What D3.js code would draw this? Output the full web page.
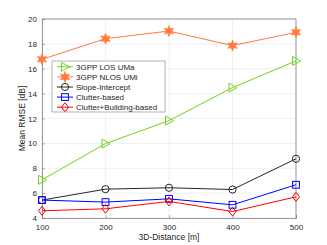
<!doctype html>
<html>
<head>
<style>
  body { margin: 0; background: #fff; font-family: "Liberation Sans", Arial, sans-serif; }
  text { fill: #262626; }
</style>
<script src="https://d3js.org/d3.v7.min.js"></script>
</head>
<body>
<div id="chart"></div>
<script>
var distances = [100, 200, 300, 400, 500];
var losUMa = [7.07, 9.98, 11.83, 14.48, 16.63];
var nlosUMi = [16.76, 18.42, 19.03, 17.86, 18.93];
var slopeIntercept = [5.44, 6.32, 6.43, 6.29, 8.76];
var clutterBased = [5.44, 5.28, 5.54, 5.06, 6.67];
var clutterBuilding = [4.58, 4.74, 5.33, 4.52, 5.70];
var xTicks = [100, 200, 300, 400, 500];
var yTicks = [4, 6, 8, 10, 12, 14, 16, 18, 20];

var series = [
  {name: "3GPP LOS UMa", values: losUMa, color: "#6fd41c", marker: "tri"},
  {name: "3GPP NLOS UMi", values: nlosUMi, color: "#ff7a3d", marker: "star"},
  {name: "Slope-Intercept", values: slopeIntercept, color: "#262626", marker: "circle"},
  {name: "Clutter-based", values: clutterBased, color: "#0000ff", marker: "square"},
  {name: "Clutter+Building-based", values: clutterBuilding, color: "#ff0000", marker: "diamond"}
];

var W = 327, H = 245;
var margin = {top: 19, right: 31, bottom: 27, left: 42};
var width = W - margin.left - margin.right,
    height = H - margin.top - margin.bottom;

var svg = d3.select("#chart").append("svg")
    .attr("width", W).attr("height", H);
var g = svg.append("g")
    .attr("transform", "translate(" + margin.left + "," + margin.top + ")");

var x = d3.scaleLinear().domain([100, 500]).range([0, width]);
var y = d3.scaleLinear().domain([4, 20]).range([height, 0]);

// grid
g.selectAll(".gx").data(xTicks).enter().append("line")
  .attr("x1", function(d) { return x(d); }).attr("x2", function(d) { return x(d); })
  .attr("y1", 0).attr("y2", height)
  .attr("stroke", "#e6e6e6").attr("stroke-width", 0.6);
g.selectAll(".gy").data(yTicks).enter().append("line")
  .attr("y1", function(d) { return y(d); }).attr("y2", function(d) { return y(d); })
  .attr("x1", 0).attr("x2", width)
  .attr("stroke", "#e6e6e6").attr("stroke-width", 0.6);

// axes
var xAxis = g.append("g").attr("transform", "translate(0," + height + ")")
  .call(d3.axisBottom(x).tickValues(xTicks).tickSize(-3).tickPadding(6));
var yAxis = g.append("g")
  .call(d3.axisLeft(y).tickValues(yTicks).tickSize(-3).tickPadding(5));
[xAxis, yAxis].forEach(function(a) {
  a.select(".domain").attr("stroke", "#808080").attr("stroke-width", 0.8);
  a.selectAll(".tick line").attr("stroke", "#808080").attr("stroke-width", 0.6);
  a.selectAll("text").attr("font-size", "8px").attr("fill", "#262626")
    .attr("font-family", "Liberation Sans, Arial, sans-serif");
});
// top and right box
g.append("line").attr("x1", 0).attr("x2", width).attr("y1", 0).attr("y2", 0)
  .attr("stroke", "#808080").attr("stroke-width", 0.8);
g.append("line").attr("x1", width).attr("x2", width).attr("y1", 0).attr("y2", height)
  .attr("stroke", "#808080").attr("stroke-width", 0.8);

// labels
svg.append("text").attr("x", margin.left + width / 2).attr("y", 240)
  .attr("text-anchor", "middle").attr("font-size", "8.5px").text("3D-Distance [m]");
svg.append("text").attr("transform", "translate(25," + (margin.top + height / 2) + ") rotate(-90)")
  .attr("text-anchor", "middle").attr("font-size", "8.5px").text("Mean RMSE [dB]");

function drawMarker(sel, type, color) {
  if (type === "tri") {
    sel.append("path").attr("d", "M-3.5,-4.5 L4.5,0 L-3.5,4.5 Z")
      .attr("fill", "none").attr("stroke", color).attr("stroke-width", 1);
  } else if (type === "star") {
    var pts = [];
    for (var i = 0; i < 12; i++) {
      var r = i % 2 === 0 ? 5.5 : 2.6;
      var a = -Math.PI / 2 + i * Math.PI / 6;
      pts.push([r * Math.cos(a), r * Math.sin(a)]);
    }
    sel.append("path").attr("d", "M" + pts.join("L") + "Z")
      .attr("fill", color).attr("stroke", color).attr("stroke-width", 0.6);
  } else if (type === "circle") {
    sel.append("circle").attr("r", 3.6)
      .attr("fill", "none").attr("stroke", color).attr("stroke-width", 1);
  } else if (type === "square") {
    sel.append("rect").attr("x", -3.4).attr("y", -3.4).attr("width", 6.8).attr("height", 6.8)
      .attr("fill", "none").attr("stroke", color).attr("stroke-width", 1);
  } else if (type === "diamond") {
    sel.append("path").attr("d", "M0,-4.5 L3.5,0 L0,4.5 L-3.5,0 Z")
      .attr("fill", "none").attr("stroke", color).attr("stroke-width", 1);
  }
}

var line = d3.line()
  .x(function(d, i) { return x(distances[i]); })
  .y(function(d) { return y(d); });

series.forEach(function(s) {
  g.append("path").datum(s.values).attr("d", line)
    .attr("fill", "none").attr("stroke", s.color).attr("stroke-width", 1);
  s.values.forEach(function(v, i) {
    var m = g.append("g").attr("transform", "translate(" + x(distances[i]) + "," + y(v) + ")");
    drawMarker(m, s.marker, s.color);
  });
});

// legend
var lg = svg.append("g").attr("transform", "translate(52,61)");
lg.append("rect").attr("width", 113).attr("height", 51)
  .attr("fill", "#fff").attr("stroke", "#808080").attr("stroke-width", 0.6);
series.forEach(function(s, i) {
  var yy = 5.8 + i * 10.1;
  lg.append("line").attr("x1", 5).attr("x2", 21).attr("y1", yy).attr("y2", yy)
    .attr("stroke", s.color).attr("stroke-width", 1);
  drawMarker(lg.append("g").attr("transform", "translate(13," + yy + ")"), s.marker, s.color);
  lg.append("text").attr("x", 24).attr("y", yy + 2.9).attr("font-size", "8px").text(s.name);
});
</script>
</body>
</html>
